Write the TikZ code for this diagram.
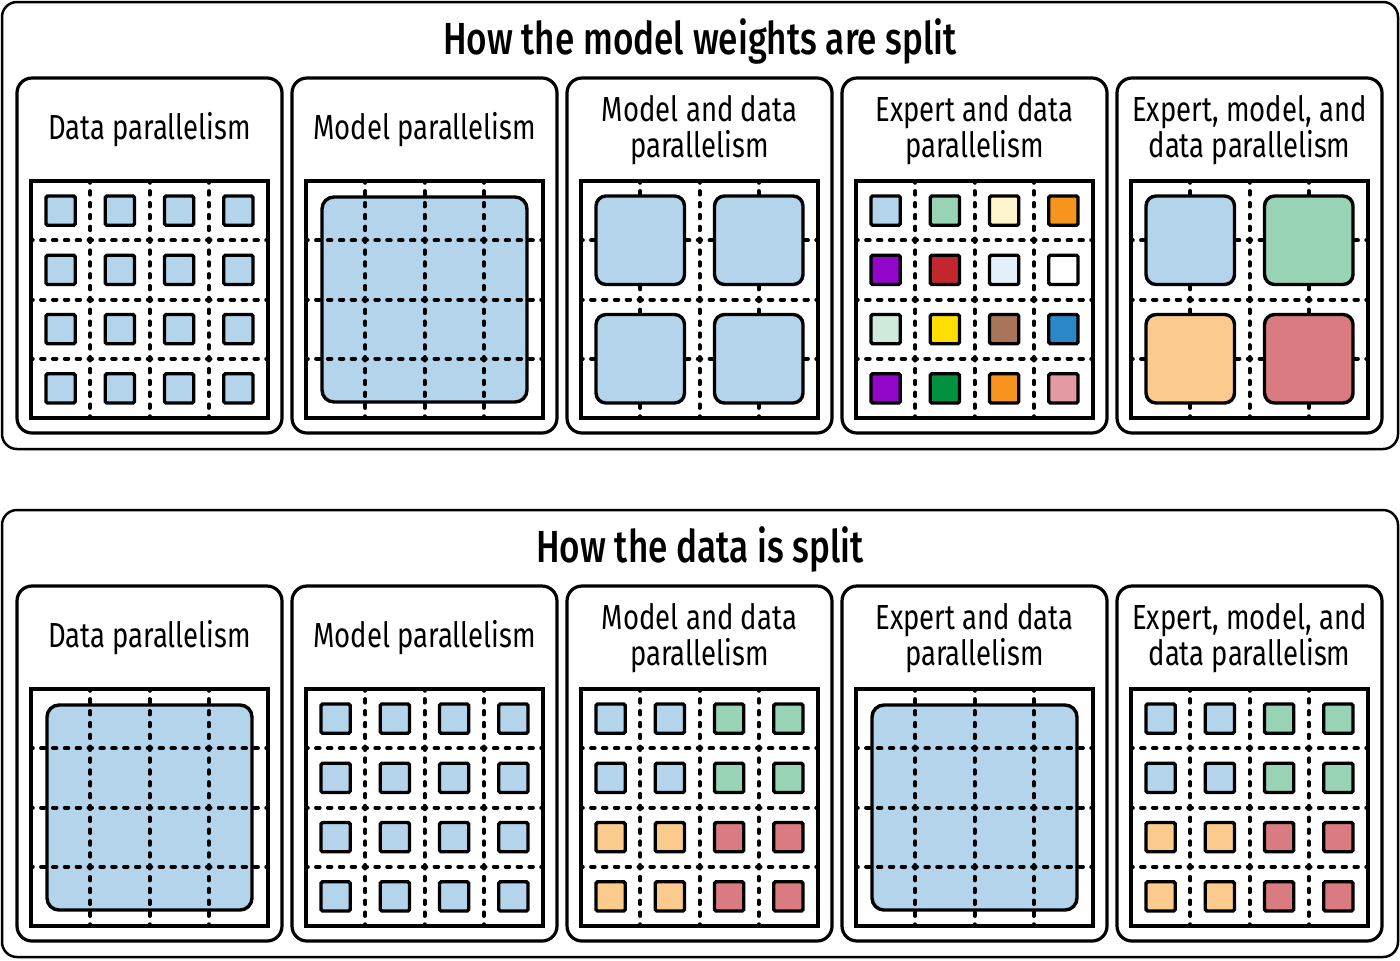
\documentclass[tikz,border=0pt]{standalone}
\usepackage{fontspec}
\setmainfont{Fira Sans}[FakeStretch=0.79]
\newfontfamily\headfont{Fira Sans Medium}[FakeStretch=0.78]
\usepackage{tikz}

\definecolor{wblue}{HTML}{B4D4EC}
\definecolor{wgreen}{HTML}{98D3B5}
\definecolor{wpeach}{HTML}{FBCB8E}
\definecolor{wsalmon}{HTML}{D97B80}
\definecolor{wcream}{HTML}{FFF5CC}
\definecolor{worange}{HTML}{F7941D}
\definecolor{wpurple}{HTML}{9106C9}
\definecolor{wred}{HTML}{C1272D}
\definecolor{wice}{HTML}{E3F0F9}
\definecolor{wmint}{HTML}{CFEADB}
\definecolor{wyellow}{HTML}{FFDE00}
\definecolor{wbrown}{HTML}{A87558}
\definecolor{wsky}{HTML}{2B87C8}
\definecolor{wdkgreen}{HTML}{00923F}
\definecolor{wrose}{HTML}{E39AA3}

% dashed split lines of one device grid
\newcommand{\dashgrid}[2]{%
  \foreach \k in {1,2,3}{
    \draw[gridline] ({#1+\k*59.25},#2) -- ({#1+\k*59.25},{#2+237});
    \draw[gridline] (#1,{#2+\k*59.25}) -- ({#1+237},{#2+\k*59.25});
  }}
% 4x4 small tiles
\newcommand{\tilegrid}[3]{%
  \foreach \c [count=\n from 0] in {#3}{
    \pgfmathtruncatemacro\col{mod(\n,4)}
    \pgfmathtruncatemacro\row{\n/4}
    \draw[tile,fill=\c] ({#1+\col*59.25+15},{#2+\row*59.25+15}) rectangle +(29.25,29.25);
  }}
% 2x2 blocks
\newcommand{\blockgrid}[3]{%
  \foreach \c [count=\n from 0] in {#3}{
    \pgfmathtruncatemacro\col{mod(\n,2)}
    \pgfmathtruncatemacro\row{\n/2}
    \draw[block,fill=\c] ({#1+\col*118.5+15},{#2+\row*118.5+15}) rectangle +(88.5,88.5);
  }}
% one big block
\newcommand{\bigblock}[2]{%
  \draw[block,rounded corners=6pt,fill=wblue] ({#1+16},{#2+16}) rectangle +(205,205);}

\begin{document}
\begin{tikzpicture}[x=0.5pt,y=-0.5pt,
  outerbox/.style={draw,line width=1.25pt,rounded corners=7.5pt},
  panelbox/.style={draw,line width=1.6pt,rounded corners=7.5pt,fill=white},
  gridbox/.style={draw,line width=1.9pt},
  gridline/.style={line width=2pt,line cap=round,dash pattern=on 1.75pt off 4.175pt,dash phase=0.875pt},
  tile/.style={draw,line width=1.7pt,rounded corners=0.8pt},
  block/.style={draw,line width=1.7pt,rounded corners=5pt},
  headtext/.style={font=\headfont\fontsize{22.5}{26}\selectfont},
  paneltext/.style={font=\fontsize{17.4}{18}\selectfont,align=center}]
\useasboundingbox (0,0) rectangle (1400,960);

\foreach \s/\head in {0/How the model weights are split,1/How the data is split}{
  \draw[outerbox] (2,{2+508*\s}) rectangle (1398,{449+508*\s});
  \node[headtext] (head\s) at (700,{41+508*\s}) {\head};
  \foreach \i/\txt in {0/Data parallelism,1/Model parallelism,2/Model and data\\parallelism,3/Expert and data\\parallelism,4/{Expert, model, and\\data parallelism}}{
    \draw[panelbox] ({17+275*\i},{78+508*\s}) rectangle ({282+275*\i},{433+508*\s});
    \node[paneltext] (lab\s\i) at ({149.5+275*\i},{130+508*\s}) {\txt};
    \draw[gridbox] ({31+275*\i},{181+508*\s}) rectangle +(237,237);
  }
}

% how the weights are split
\dashgrid{31}{181}
\tilegrid{31}{181}{wblue,wblue,wblue,wblue,wblue,wblue,wblue,wblue,wblue,wblue,wblue,wblue,wblue,wblue,wblue,wblue}
\bigblock{306}{181}
\dashgrid{306}{181}
\dashgrid{581}{181}
\blockgrid{581}{181}{wblue,wblue,wblue,wblue}
\dashgrid{856}{181}
\tilegrid{856}{181}{wblue,wgreen,wcream,worange,wpurple,wred,wice,white,wmint,wyellow,wbrown,wsky,wpurple,wdkgreen,worange,wrose}
\dashgrid{1131}{181}
\blockgrid{1131}{181}{wblue,wgreen,wpeach,wsalmon}

% how the data is split
\bigblock{31}{689}
\dashgrid{31}{689}
\dashgrid{306}{689}
\tilegrid{306}{689}{wblue,wblue,wblue,wblue,wblue,wblue,wblue,wblue,wblue,wblue,wblue,wblue,wblue,wblue,wblue,wblue}
\dashgrid{581}{689}
\tilegrid{581}{689}{wblue,wblue,wgreen,wgreen,wblue,wblue,wgreen,wgreen,wpeach,wpeach,wsalmon,wsalmon,wpeach,wpeach,wsalmon,wsalmon}
\bigblock{856}{689}
\dashgrid{856}{689}
\dashgrid{1131}{689}
\tilegrid{1131}{689}{wblue,wblue,wgreen,wgreen,wblue,wblue,wgreen,wgreen,wpeach,wpeach,wsalmon,wsalmon,wpeach,wpeach,wsalmon,wsalmon}
\end{tikzpicture}
\end{document}
